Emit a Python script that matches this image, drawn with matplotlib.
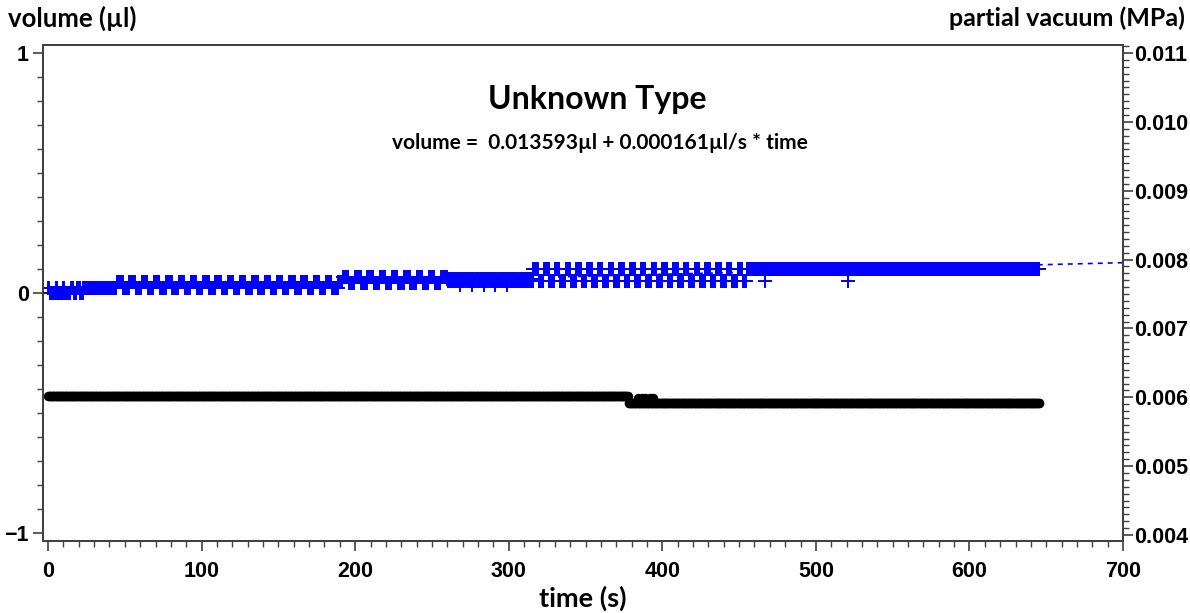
import numpy as np
import matplotlib.pyplot as plt
from matplotlib.ticker import MultipleLocator

# volume readings (µl): each time segment toggles between a low and a high reading
vol_t_start = [0, 15, 24, 45, 192, 260, 316, 455]
vol_t_end = [15, 24, 45, 192, 260, 316, 455, 646]
vol_low = [0.0, 0.0, 0.02, 0.02, 0.04, 0.05, 0.05, 0.1]
vol_high = [0.02, 0.02, 0.02, 0.045, 0.065, 0.06, 0.1, 0.1]
vol_period = [5, 4, 4, 8, 8, 1, 7, 4]
vol_high_share = [0.2, 0.5, 0.5, 0.5, 0.5, 0.5, 0.5, 0.5]

# odd single readings
vol_extra_t = [268, 276, 284, 291, 299, 467, 521]
vol_extra_v = [0.035, 0.035, 0.035, 0.035, 0.035, 0.05, 0.05]

# fit shown in the subtitle
fit_intercept = 0.013593
fit_slope = 0.000161
fit_t = [0, 700]

# partial vacuum (MPa)
p_t_start = [0, 378]
p_t_end = [378, 646]
p_level = [0.006015, 0.00592]
p_extra_t = [384, 387, 389, 392, 394]
p_extra_v = [0.00599, 0.00599, 0.00599, 0.00599, 0.00599]

step = 0.5

# build the sampled series
vt, vv = [], []
for t0, t1, lo, hi, per, share in zip(vol_t_start, vol_t_end, vol_low, vol_high,
                                      vol_period, vol_high_share):
    t = np.arange(t0, t1, step)
    phase = ((t - t0) % per) / per
    vt.append(t)
    vv.append(np.where(phase < share, hi, lo))
vt = np.concatenate(vt + [np.array(vol_extra_t)])
vv = np.concatenate(vv + [np.array(vol_extra_v)])

pt, pv = [], []
for t0, t1, lev in zip(p_t_start, p_t_end, p_level):
    t = np.arange(t0, t1, step)
    pt.append(t)
    pv.append(np.full(len(t), lev))
pt = np.concatenate(pt + [np.array(p_extra_t)])
pv = np.concatenate(pv + [np.array(p_extra_v)])

label_font = ['Lato', 'DejaVu Sans']
tick_font = ['Liberation Sans', 'DejaVu Sans']

fig = plt.figure(figsize=(11.9, 6.13), dpi=100)
ax = fig.add_axes([43 / 1190, 1 - 541 / 613, 1080 / 1190, 496 / 613])
ax2 = ax.twinx()

fit_v = [fit_intercept + fit_slope * t for t in fit_t]
ax.plot(fit_t, fit_v, color='#0000ff', linestyle=(0, (3, 3)), linewidth=1.2, zorder=1)
ax.plot(vt, vv, linestyle='none', marker='+', markersize=9.5, markeredgewidth=1.4,
        color='#0000ff', zorder=2)
ax2.plot(pt, pv, linestyle='none', marker='o', markersize=6.8, color='black',
         markeredgewidth=0)

ax.set_xlim(-3.3, 700)
ax.set_ylim(-1.033, 1.033)
ax2.set_ylim(0.003913, 0.011116)

ax.xaxis.set_major_locator(MultipleLocator(100))
ax.xaxis.set_minor_locator(MultipleLocator(10))
ax.yaxis.set_major_locator(MultipleLocator(1))
ax.yaxis.set_minor_locator(MultipleLocator(0.1))
ax2.yaxis.set_minor_locator(MultipleLocator(0.0001))
ax2.set_yticks(np.arange(0.004, 0.0111, 0.001))
ax2.set_yticklabels(['%.3f' % v for v in np.arange(0.004, 0.0111, 0.001)])

for a in (ax, ax2):
    for s in a.spines.values():
        s.set_color('#404040')
        s.set_linewidth(1.3)
    a.tick_params(which='major', length=7, width=1.2, color='#404040')
    a.tick_params(which='minor', length=4, width=1.0, color='#404040')
ax.tick_params(axis='x', which='both', top=False)
ax.tick_params(axis='both', pad=3)
ax2.tick_params(axis='y', pad=1)

for lab in ax.get_xticklabels() + ax.get_yticklabels() + ax2.get_yticklabels():
    lab.set_family(tick_font)
    lab.set_fontweight('bold')
    lab.set_fontsize(15.5)
for lab in ax.get_xticklabels():
    lab.set_y(-0.012)

fig.text(8 / 1190, 1 - 18 / 613, 'volume (µl)', family=label_font, fontweight='bold',
         fontsize=18.5, ha='left', va='center')
fig.text(1185 / 1190, 1 - 18 / 613, 'partial vacuum (MPa)', family=label_font,
         fontweight='bold', fontsize=18, ha='right', va='center')
fig.text(583 / 1190, 1 - 598 / 613, 'time (s)', family=label_font, fontweight='bold',
         fontsize=19.5, ha='center', va='center')
fig.text(597 / 1190, 1 - 100 / 613, 'Unknown Type', family=label_font, fontweight='bold',
         fontsize=23, ha='center', va='center')
fig.text(600 / 1190, 1 - 143 / 613, 'volume =  0.013593µl + 0.000161µl/s * time',
         family=label_font, fontweight='bold', fontsize=15, ha='center', va='center')

plt.savefig('out.png', dpi=100)
